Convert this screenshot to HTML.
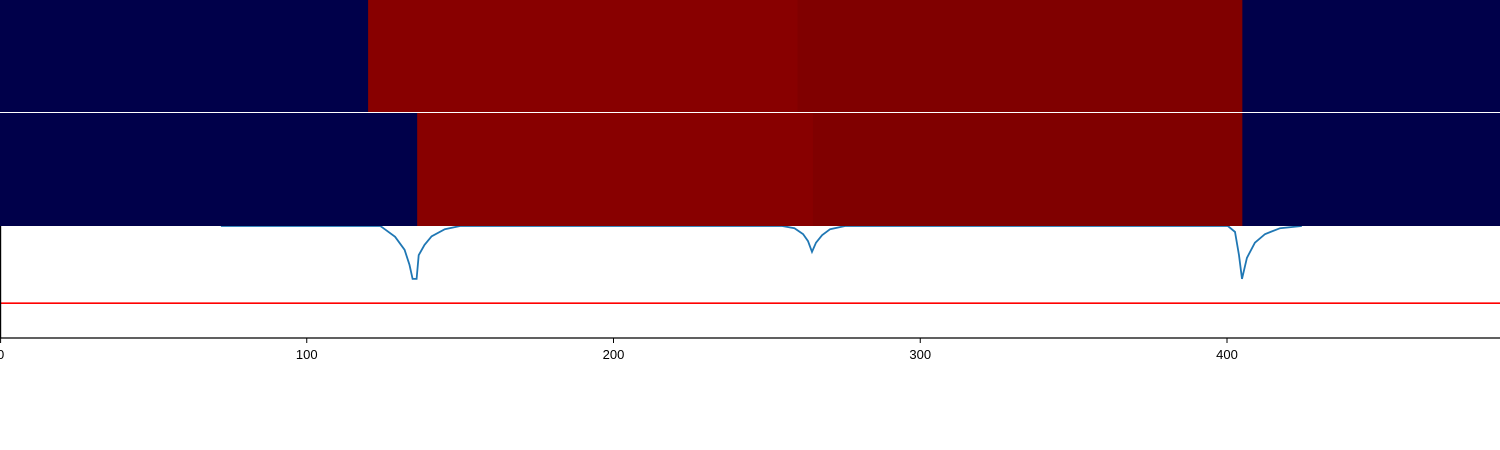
<!DOCTYPE html>
<html><head><meta charset="utf-8"><style>
body{margin:0;background:#fff;}
svg{display:block;font-family:"Liberation Sans",sans-serif;}
</style></head><body>
<svg id="chart" width="1500" height="450" viewBox="0 0 1500 450">
<g id="lineLayer"></g>
<g id="heatLayer"></g>
<g id="axisLayer"></g>
</svg>
<script>
const xTicks = [0, 100, 200, 300, 400];
const lineX = [72, 100, 124, 128.8, 131.9, 133.5, 134.5, 135.8, 136.5, 138.4, 140.7, 145, 150, 200, 255, 259, 261.8, 263.4, 264.7, 266, 268, 270.6, 275.5, 350, 398, 400.3, 402.6, 403.9, 404.9, 406.5, 409.1, 412.4, 417.3, 424.4];
const lineY = [0, 0, 0, -0.2, -0.44, -0.72, -0.98, -0.98, -0.54, -0.35, -0.19, -0.06, 0, 0, 0, -0.04, -0.15, -0.28, -0.48, -0.31, -0.17, -0.06, 0, 0, 0, 0, -0.11, -0.54, -0.98, -0.59, -0.31, -0.15, -0.04, 0];
const thresholdY = -1.43;
const band1Edges = [0, 120, 260, 405, 490];
const band1Colors = ["#00004a", "#880000", "#800000", "#00004a"];
const band2Edges = [0, 136, 265, 405, 490];
const band2Colors = ["#00004a", "#880000", "#800000", "#00004a"];

const NS = "http://www.w3.org/2000/svg";
function xs(v){ return v * 3.0675; }
function ys(v){ return 226 - v * 54; }
function mk(tag, attrs, parent){ const e = document.createElementNS(NS, tag); for (const k in attrs) e.setAttribute(k, attrs[k]); parent.appendChild(e); return e; }

const lineLayer = document.getElementById('lineLayer');
const d = lineX.map((x,i)=>(i?'L':'M')+xs(x).toFixed(1)+','+ys(lineY[i]).toFixed(1)).join(' ');
const path = mk('path', {d:d, fill:'none', stroke:'#1f77b4', 'stroke-width':1.8}, lineLayer);


const th = mk('line', {x1:0, x2:1500, y1:ys(thresholdY), y2:ys(thresholdY), stroke:'#ff0000', 'stroke-width':1.6}, lineLayer);



const heat = document.getElementById('heatLayer');
function band(edges, colors, y, h, name){
  for (let i=0;i<colors.length;i++){
    const r = mk('rect', {x:xs(edges[i]), y:y, width:xs(edges[i+1])-xs(edges[i])+0.5, height:h, fill:colors[i]}, heat);
    
    
  }
}
band(band1Edges, band1Colors, 0, 112, 'top-band');
band(band2Edges, band2Colors, 113, 113, 'bottom-band');

const ax = document.getElementById('axisLayer');
const spineB = mk('line', {x1:0, x2:1500, y1:338, y2:338, stroke:'#000', 'stroke-width':1.2}, ax);


const spineL = mk('line', {x1:0.6, x2:0.6, y1:226, y2:338, stroke:'#000', 'stroke-width':1.2}, ax);


xTicks.forEach(t=>{
  const x = xs(t) + (t===0?0.6:0);
  const tk = mk('line', {x1:x, x2:x, y1:338, y2:343, stroke:'#000', 'stroke-width':1}, ax);
  
  
  const tx = mk('text', {x:x, y:359, 'text-anchor':'middle', 'font-size':13, fill:'#000'}, ax);
  tx.textContent = t;
  
  
});
</script>
</body></html>
